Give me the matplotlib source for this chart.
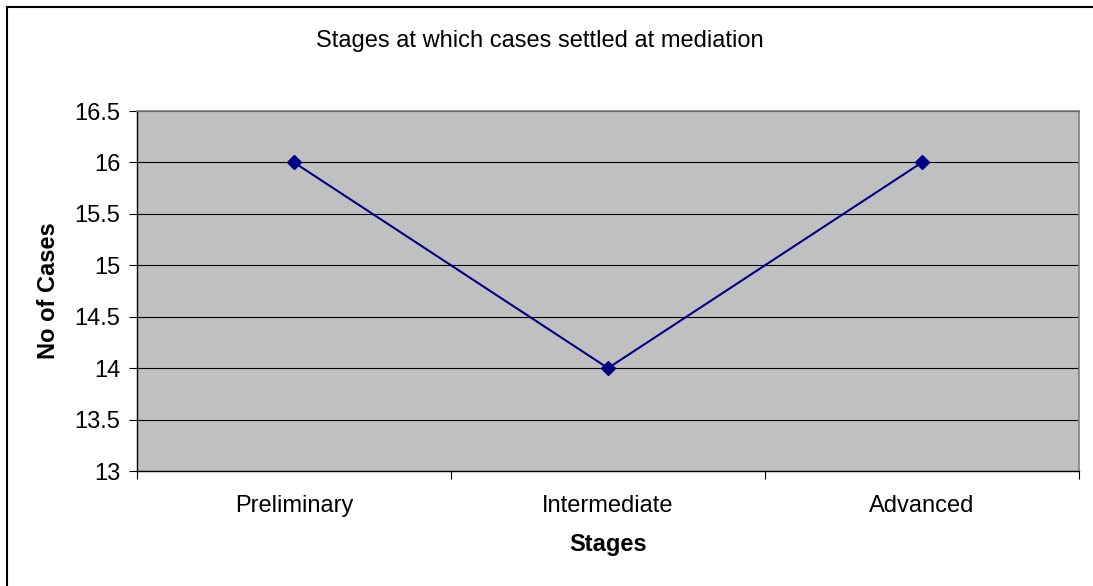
import numpy as np
import matplotlib.pyplot as plt
from matplotlib.lines import Line2D

plt.rcParams['font.family'] = ['Liberation Sans', 'DejaVu Sans']

# data to plot
stages = ['Preliminary', 'Intermediate', 'Advanced']
cases = [16, 14, 16]
y_ticks = [13, 13.5, 14, 14.5, 15, 15.5, 16, 16.5]

fs = 17

fig = plt.figure(figsize=(10.93, 5.86), dpi=100)
ax = fig.add_axes([137 / 1093, 1 - 471 / 586, 942 / 1093, 360 / 586])

# chart frame (left and top edges only)
fig.add_artist(Line2D([7 / 1093, 7 / 1093], [0, 1 - 7 / 586], transform=fig.transFigure,
                      color='black', lw=1.5))
fig.add_artist(Line2D([7 / 1093, 1], [1 - 7 / 586, 1 - 7 / 586], transform=fig.transFigure,
                      color='black', lw=1.5))

ax.set_facecolor('#c0c0c0')
index = np.arange(len(stages)) + 0.5
ax.plot(index, cases, color='#000080', lw=1.5, marker='D', markersize=7,
        markerfacecolor='#000080', markeredgecolor='#000080', zorder=3)

ax.set_xlim(0, len(stages))
ax.set_ylim(13, 16.5)
ax.set_yticks(y_ticks)
ax.set_yticklabels(['13', '13.5', '14', '14.5', '15', '15.5', '16', '16.5'])
ax.yaxis.grid(True, color='black', lw=0.8)
ax.set_axisbelow(True)

ax.set_xticks(np.arange(len(stages) + 1))
ax.set_xticklabels([])
ax.set_xticks(index, minor=True)
ax.set_xticklabels(stages, minor=True)
ax.tick_params(axis='x', which='major', length=6, direction='out', color='black')
ax.tick_params(axis='x', which='minor', length=0, pad=17, labelsize=fs)
ax.tick_params(axis='y', length=6, direction='out', pad=6, labelsize=fs)

for side in ['top', 'right']:
    ax.spines[side].set_color('#808080')
    ax.spines[side].set_linewidth(1.2)
for side in ['left', 'bottom']:
    ax.spines[side].set_color('black')
    ax.spines[side].set_linewidth(1.0)

ax.set_xlabel('Stages', fontsize=fs, fontweight='bold', labelpad=12)
ax.set_ylabel('No of Cases', fontsize=fs, fontweight='bold', labelpad=10)
fig.text(540 / 1093, 1 - 41 / 586, 'Stages at which cases settled at mediation',
         ha='center', va='center', fontsize=fs)

plt.savefig('out.png', dpi=100)
